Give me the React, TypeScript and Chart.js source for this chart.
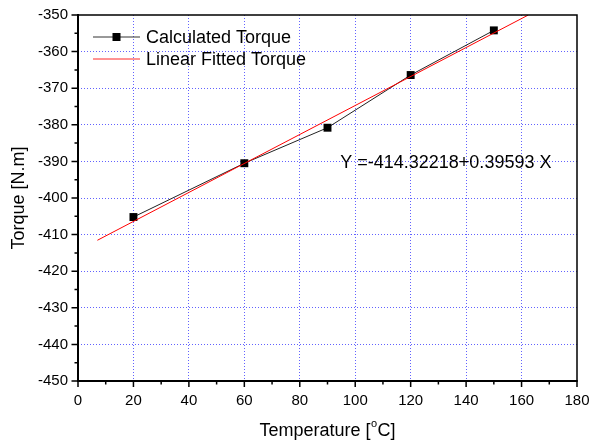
import React, { useEffect, useRef } from "react";
import { Chart, registerables } from "chart.js";

Chart.register(...registerables);

const temperatures = [20, 60, 90, 120, 150];
const calculatedTorque = [-405.2, -390.5, -380.8, -366.4, -354.2];
const fitX = [7, 162.4];
const fitY = [-411.55, -350.02];
const xTicksMajor = [0, 20, 40, 60, 80, 100, 120, 140, 160, 180];
const yTicksMajor = [-450, -440, -430, -420, -410, -400, -390, -380, -370, -360, -350];
const equationText = "Y =-414.32218+0.39593 X";
const equationAt = { x: 94.6, y: -390.2 };
const legendLabels = ["Calculated Torque", "Linear Fitted Torque"];
const xTitleParts = ["Temperature [", "o", "C]"];
const yTitle = "Torque [N.m]";

const FONT = "'Liberation Sans', Arial, sans-serif";

const framePlugin = {
  id: "frame",
  afterDraw(chart: any) {
    const { ctx, chartArea: a, scales } = chart;
    const xs = scales.x;
    const ys = scales.y;
    ctx.save();
    // frame
    ctx.strokeStyle = "#000";
    ctx.lineWidth = 1.5;
    ctx.beginPath();
    ctx.moveTo(a.left, a.top);
    ctx.lineTo(a.right, a.top);
    ctx.lineTo(a.right, a.bottom);
    ctx.stroke();
    ctx.lineWidth = 2;
    ctx.beginPath();
    ctx.moveTo(a.left, a.top - 1);
    ctx.lineTo(a.left, a.bottom);
    ctx.lineTo(a.right + 0.75, a.bottom);
    ctx.stroke();
    // ticks
    ctx.lineWidth = 1.5;
    ctx.beginPath();
    for (let v = 0; v <= 180; v += 10) {
      const px = xs.getPixelForValue(v);
      const len = v % 20 === 0 ? 6 : 3.5;
      ctx.moveTo(px, a.bottom);
      ctx.lineTo(px, a.bottom + len);
    }
    for (let v = -450; v <= -350; v += 5) {
      const py = ys.getPixelForValue(v);
      const len = v % 10 === 0 ? 6.5 : 3.5;
      ctx.moveTo(a.left, py);
      ctx.lineTo(a.left - len, py);
    }
    ctx.stroke();

    // legend
    const lx0 = a.left + 15;
    const lx1 = a.left + 62;
    const ly1 = a.top + 22;
    const ly2 = a.top + 44;
    ctx.strokeStyle = "#333";
    ctx.lineWidth = 1;
    ctx.beginPath();
    ctx.moveTo(lx0, ly1);
    ctx.lineTo(lx1, ly1);
    ctx.stroke();
    ctx.fillStyle = "#000";
    ctx.fillRect((lx0 + lx1) / 2 - 4, ly1 - 4, 8, 8);
    ctx.strokeStyle = "rgb(255,40,40)";
    ctx.beginPath();
    ctx.moveTo(lx0, ly2);
    ctx.lineTo(lx1, ly2);
    ctx.stroke();
    ctx.fillStyle = "#000";
    ctx.font = `18px ${FONT}`;
    ctx.textAlign = "left";
    ctx.textBaseline = "middle";
    ctx.fillText(legendLabels[0], lx1 + 6, ly1 + 1);
    ctx.fillText(legendLabels[1], lx1 + 6, ly2 + 1);

    // equation
    ctx.fillText(equationText, xs.getPixelForValue(equationAt.x), ys.getPixelForValue(equationAt.y) + 1);

    // x axis title with superscript degree
    const big = `18px ${FONT}`;
    const small = `11px ${FONT}`;
    ctx.font = big;
    const w1 = ctx.measureText(xTitleParts[0]).width;
    const w3 = ctx.measureText(xTitleParts[2]).width;
    ctx.font = small;
    const w2 = ctx.measureText(xTitleParts[1]).width + 1;
    const total = w1 + w2 + w3;
    let tx = (a.left + a.right) / 2 - total / 2;
    const ty = 431;
    ctx.textAlign = "left";
    ctx.font = big;
    ctx.fillText(xTitleParts[0], tx, ty);
    tx += w1;
    ctx.font = small;
    ctx.fillText(xTitleParts[1], tx + 0.5, ty - 7);
    tx += w2;
    ctx.font = big;
    ctx.fillText(xTitleParts[2], tx, ty);

    // y axis title
    ctx.textAlign = "center";
    ctx.save();
    ctx.translate(19, (a.top + a.bottom) / 2);
    ctx.rotate(-Math.PI / 2);
    ctx.fillText(yTitle, 0, 0);
    ctx.restore();
    ctx.restore();
  },
};

export default function App() {
  const ref = useRef<HTMLCanvasElement>(null);
  useEffect(() => {
    if (!ref.current) return;
    const gridColor = (c: any, lo: number, hi: number) =>
      c.tick && (c.tick.value === lo || c.tick.value === hi) ? "rgba(0,0,0,0)" : "rgba(70,70,255,0.85)";
    const chart = new Chart(ref.current, {
      type: "scatter",
      data: {
        datasets: [
          {
            label: legendLabels[0],
            data: temperatures.map((x, i) => ({ x, y: calculatedTorque[i] })),
            showLine: true,
            borderColor: "#222",
            borderWidth: 1,
            pointStyle: "rect",
            pointRadius: 5.6,
            pointBorderWidth: 0,
            pointBackgroundColor: "#000",
            order: 2,
          },
          {
            label: legendLabels[1],
            data: fitX.map((x, i) => ({ x, y: fitY[i] })),
            showLine: true,
            borderColor: "rgb(255,0,0)",
            borderWidth: 1,
            pointRadius: 0,
            order: 1,
          },
        ],
      },
      options: {
        animation: false,
        responsive: false,
        maintainAspectRatio: false,
        layout: { padding: 0 },
        plugins: { legend: { display: false }, tooltip: { enabled: false } },
        scales: {
          x: {
            type: "linear",
            min: 0,
            max: 180,
            afterBuildTicks: (s: any) => {
              s.ticks = xTicksMajor.map((v) => ({ value: v }));
            },
            afterFit: (s: any) => {
              s.height = 62;
              s.paddingLeft = 0;
              s.paddingRight = 12;
            },
            ticks: {
              font: { family: FONT, size: 15 },
              color: "#000",
              padding: 11,
              maxRotation: 0,
              autoSkip: false,
            },
            grid: {
              drawTicks: false,
              color: (c: any) => gridColor(c, 0, 180),
              lineWidth: 1,
            },
            border: { display: false, dash: [1, 2] },
          },
          y: {
            type: "linear",
            min: -450,
            max: -350,
            afterBuildTicks: (s: any) => {
              s.ticks = yTicksMajor.map((v) => ({ value: v }));
            },
            afterFit: (s: any) => {
              s.width = 78;
              s.paddingTop = 15;
              s.paddingBottom = 0;
            },
            ticks: {
              font: { family: FONT, size: 15 },
              color: "#000",
              padding: 10,
              autoSkip: false,
            },
            grid: {
              drawTicks: false,
              color: (c: any) => gridColor(c, -450, -350),
              lineWidth: 1,
            },
            border: { display: false, dash: [1, 2] },
          },
        },
      },
      plugins: [framePlugin],
    });
    return () => chart.destroy();
  }, []);
  return (
    <div style={{ position: "fixed", left: 0, top: 0, width: 589, height: 443, background: "#fff" }}>
      <canvas ref={ref} width={589} height={443} style={{ display: "block" }} />
    </div>
  );
}
